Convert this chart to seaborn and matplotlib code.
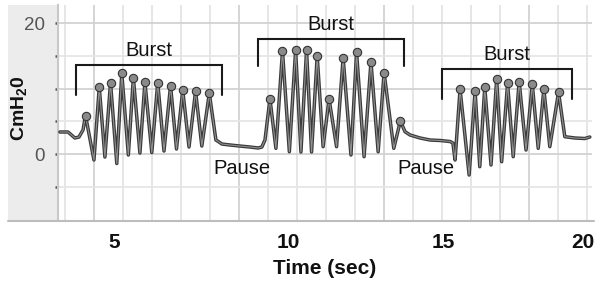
import numpy as np
import pandas as pd
import matplotlib
matplotlib.use("Agg")
import matplotlib.pyplot as plt
import seaborn as sns
from matplotlib.patches import Rectangle

# ---------------- data ----------------
trace_time = [3.27, 3.53, 3.75, 3.88, 4.01, 4.09, 4.36, 4.53, 4.71, 4.89, 5.09, 5.25,
              5.46, 5.62, 5.83, 5.99, 6.21, 6.40, 6.60, 6.81, 7.00, 7.20, 7.40, 7.61,
              7.81, 8.05, 8.26, 8.36, 8.45, 8.71, 9.03, 9.35, 9.61, 9.73, 9.83, 9.99,
              10.18, 10.39, 10.61, 10.81, 10.98, 11.16, 11.32, 11.50, 11.69, 11.88,
              12.12, 12.33, 12.58, 12.76, 13.00, 13.22, 13.45, 13.64, 13.95, 14.16,
              14.31, 14.47, 14.79, 15.11, 15.43, 15.75, 15.84, 15.91, 16.07, 16.36,
              16.55, 16.70, 16.86, 17.06, 17.24, 17.40, 17.59, 17.77, 17.96, 18.18,
              18.38, 18.57, 18.75, 18.94, 19.22, 19.42, 19.74, 20.06, 20.22]
trace_p = [3.37, 3.37, 2.45, 2.60, 3.67, 5.89, -0.92, 10.21, -0.46, 10.91, -1.45, 12.35,
           -0.15, 11.68, 0.15, 10.97, 0.23, 10.91, 0.46, 10.45, 0.77, 9.75, 1.07, 9.59,
           1.22, 9.29, 2.14, 1.84, 1.53, 1.38, 1.22, 1.07, 0.92, 1.07, 2.14, 8.42,
           0.87, 15.76, 0.35, 15.87, 0.31, 15.87, 0.31, 15.00, 1.12, 8.42,
           1.12, 14.74, -0.15, 15.56, -0.41, 14.08, 0.35, 12.44, 0.87, 5.05,
           3.41, 2.91, 2.45, 2.14, 2.07, 1.91, 1.68, -0.92, 9.90, -3.21,
           9.69, -1.94, 10.21, -1.68, 11.43, -1.18, 10.82, -0.41, 11.06, 0.61,
           10.67, 0.87, 9.95, 1.12, 9.44, 2.65, 2.45, 2.37, 2.60]

peak_time = [4.09, 4.53, 4.89, 5.25, 5.62, 5.99, 6.40, 6.81, 7.20, 7.61, 8.05,
             9.99, 10.39, 10.81, 11.16, 11.50, 11.88, 12.33, 12.76, 13.22, 13.64, 14.16,
             16.07, 16.55, 16.86, 17.24, 17.59, 17.96, 18.38, 18.75, 19.22]
peak_p = [5.89, 10.21, 10.91, 12.35, 11.68, 10.97, 10.91, 10.45, 9.75, 9.59, 9.29,
          8.42, 15.76, 15.87, 15.87, 15.00, 8.42, 14.74, 15.56, 14.08, 12.44, 5.05,
          9.90, 9.69, 10.21, 11.43, 10.82, 11.06, 10.67, 9.95, 9.44]

burst_labels = ["Burst", "Burst", "Burst"]
burst_start = [3.78, 9.61, 15.50]
burst_end = [8.45, 14.27, 19.66]
burst_top = [13.6, 17.6, 13.0]
burst_foot = [9.0, 13.4, 8.4]
burst_text_y = [15.9, 19.75, 15.2]

pause_labels = ["Pause", "Pause"]
pause_x = [9.08, 14.97]
pause_y = [-2.2, -2.2]

x_tick_pos = [5.0, 10.565, 15.55, 20.0]
x_tick_labels = ["5", "10", "15", "20"]
y_ticks = [-5, 0, 5, 10, 15, 20]
y_tick_labels = ["", "0", "", "", "", "20"]

# ---------------- styling ----------------
sns.set_theme(style="white")
plt.rcParams['font.family'] = ['Liberation Sans', 'DejaVu Sans']
plt.rcParams['mathtext.fontset'] = 'custom'
plt.rcParams['mathtext.rm'] = 'Liberation Sans'
plt.rcParams['mathtext.bf'] = 'Liberation Sans:bold'

W, H = 602, 285
fig = plt.figure(figsize=(W / 100, H / 100), dpi=100)
fig.patch.set_facecolor('white')

# grey label panel at left (drawn beneath the axes)
fig.patches.append(Rectangle((8 / W, (H - 221) / H), 50 / W, 216 / H,
                             transform=fig.transFigure, facecolor='#ececec',
                             edgecolor='none', zorder=-5))

ax = fig.add_axes([58 / W, (H - 221) / H, 534 / W, 216 / H])
ax.set_facecolor('none')
ax.set_zorder(2)
ax.set_xlim(3.21, 20.29)
ax.set_ylim(-10.25, 22.8)

# grid
gx0, gstep = 3.433, 0.9274
for k in range(19):
    xv = gx0 + k * gstep
    c = '#d2d2d2' if k % 5 == 1 else '#e4e4e4'
    ax.axvline(xv, color=c, lw=1.3, zorder=0)
for yv in y_ticks:
    c = '#d2d2d2' if yv % 10 == 0 else '#e6e6e6'
    ax.axhline(yv, color=c, lw=1.3, zorder=0)

df = pd.DataFrame({'t': trace_time, 'p': trace_p})
sns.lineplot(data=df, x='t', y='p', sort=False, estimator=None, ax=ax,
             color='#3a3a3a', lw=2.5, zorder=3)
sns.lineplot(data=df, x='t', y='p', sort=False, estimator=None, ax=ax,
             color='#909090', lw=0.8, zorder=4)
pk = pd.DataFrame({'t': peak_time, 'p': peak_p})
sns.scatterplot(data=pk, x='t', y='p', ax=ax, s=36, color='#8a8a8a',
                edgecolor='#333333', linewidth=0.8, zorder=5)

# brackets and labels
for lab, x0, x1, yt, yf, ty in zip(burst_labels, burst_start, burst_end,
                                   burst_top, burst_foot, burst_text_y):
    ax.plot([x0, x0, x1, x1], [yf, yt, yt, yf], color='#1a1a1a', lw=1.5,
            solid_joinstyle='miter', zorder=6)
    ax.text((x0 + x1) / 2, ty, lab, ha='center', va='center', fontsize=14.5,
            color='#111111', zorder=6)
for lab, px, py in zip(pause_labels, pause_x, pause_y):
    ax.text(px, py, lab, ha='center', va='center', fontsize=14.5,
            color='#111111', zorder=6)

# axes decorations
for s in ['top', 'right']:
    ax.spines[s].set_visible(False)
ax.spines['left'].set_color('#c8c8c8')
ax.spines['left'].set_linewidth(1.5)
ax.spines['bottom'].set_visible(False)
fig.add_artist(plt.Line2D([8 / W, 594 / W], [(H - 221) / H] * 2,
                          transform=fig.transFigure, color='#bdbdbd', lw=1.5,
                          zorder=3))

ax.set_xticks(x_tick_pos)
ax.set_xticklabels(x_tick_labels, fontsize=15, fontweight='bold', color='#111111')
ax.tick_params(axis='x', length=0, pad=9)
ax.set_yticks(y_ticks)
ax.set_yticklabels(y_tick_labels, fontsize=13.5, color='#555555')
for t in ax.get_yticklabels():
    t.set_fontstretch('condensed')
    t.set_family(['Liberation Sans Narrow', 'Liberation Sans'])
ax.tick_params(axis='y', length=2.5, width=1.8, color='#555555', pad=7, left=True)
ax.set_xlabel('')
ax.set_ylabel('')

fig.text(325 / W, 1 - 268 / H, 'Time (sec)', ha='center', va='center',
         fontsize=15, fontweight='bold', color='#111111')
fig.text(20 / W, 1 - 108 / H, r'CmH$_\mathbf{2}$0', rotation=90, ha='center',
         va='center', fontsize=14, fontweight='bold', color='#111111')

fig.savefig('out.png', dpi=100)
